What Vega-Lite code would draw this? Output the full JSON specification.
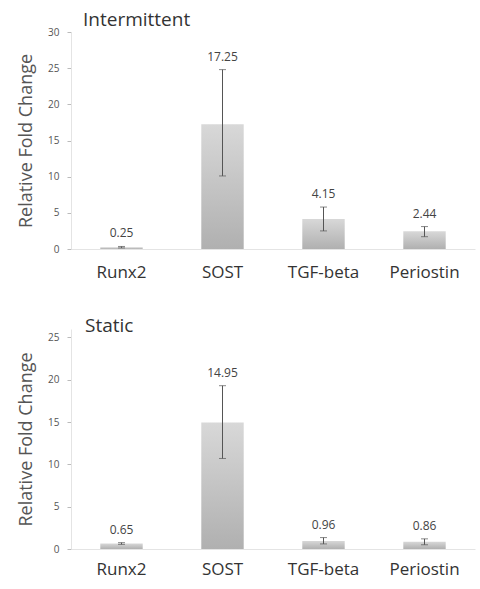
{
  "$schema": "https://vega.github.io/schema/vega-lite/v6.json",
  "padding": {"left": 17, "top": 11, "right": 3, "bottom": 5},
  "background": "white",
  "config": {
    "font": "Open Sans",
    "view": {"stroke": null},
    "concat": {"spacing": 37},
    "axisY": {"titleFontSize": 18, "titleFontWeight": "normal", "titleColor": "#555", "titlePadding": 12, "labelOverlap": false, "labelFontSize": 10, "labelColor": "#555", "grid": false, "tickSize": 4, "tickColor": "#bbb", "domainColor": "#e4e4e4", "labelPadding": 8}
  },
  "datasets": {
    "d": [
      {"panel": "Intermittent", "gene": "Runx2", "value": 0.25, "lower": 0.15, "upper": 0.35},
      {"panel": "Intermittent", "gene": "SOST", "value": 17.25, "lower": 10.1, "upper": 24.8},
      {"panel": "Intermittent", "gene": "TGF-beta", "value": 4.15, "lower": 2.5, "upper": 5.8},
      {"panel": "Intermittent", "gene": "Periostin", "value": 2.44, "lower": 1.7, "upper": 3.1},
      {"panel": "Static", "gene": "Runx2", "value": 0.65, "lower": 0.55, "upper": 0.75},
      {"panel": "Static", "gene": "SOST", "value": 14.95, "lower": 10.7, "upper": 19.3},
      {"panel": "Static", "gene": "TGF-beta", "value": 0.96, "lower": 0.6, "upper": 1.35},
      {"panel": "Static", "gene": "Periostin", "value": 0.86, "lower": 0.5, "upper": 1.2}
    ]
  },
  "vconcat": [
    {
      "width": 404,
      "height": 217,
      "data": {"name": "d"},
      "transform": [{"filter": "datum.panel === 'Intermittent'"}],
      "title": {"text": "Intermittent", "anchor": "start", "frame": "group", "offset": -3, "dx": 12, "fontSize": 19, "fontWeight": "normal", "color": "#333", "font": "Open Sans"},
      "encoding": {
        "x": {
          "field": "gene", "type": "nominal",
          "sort": ["Runx2", "SOST", "TGF-beta", "Periostin"],
          "scale": {"paddingInner": 0.58, "paddingOuter": 0.29},
          "axis": {"title": null, "labelAngle": 0, "labelFontSize": 17, "labelColor": "#333", "ticks": false, "domainColor": "#e4e4e4", "labelPadding": 15}
        }
      },
      "layer": [
        {
          "mark": {"type": "bar", "color": {"gradient": "linear", "x1": 0, "y1": 0, "x2": 0, "y2": 1, "stops": [{"offset": 0, "color": "#d8d8d8"}, {"offset": 1, "color": "#b0b0b0"}]}},
          "encoding": {
            "y": {"field": "value", "type": "quantitative", "scale": {"domain": [0, 30]},
              "axis": {"title": "Relative Fold Change", "values": [0, 5, 10, 15, 20, 25, 30], "labelOverlap": false}}
          }
        },
        {
          "mark": {"type": "rule", "color": "#555", "strokeWidth": 1},
          "encoding": {"y": {"field": "lower", "type": "quantitative", "axis": {"title": "Relative Fold Change", "values": [0, 5, 10, 15, 20, 25, 30], "labelOverlap": false}}, "y2": {"field": "upper"}}
        },
        {
          "mark": {"type": "tick", "color": "#555", "thickness": 1, "size": 7},
          "encoding": {"y": {"field": "upper", "type": "quantitative", "axis": {"title": "Relative Fold Change", "values": [0, 5, 10, 15, 20, 25, 30], "labelOverlap": false}}}
        },
        {
          "mark": {"type": "tick", "color": "#555", "thickness": 1, "size": 7},
          "encoding": {"y": {"field": "lower", "type": "quantitative", "axis": {"title": "Relative Fold Change", "values": [0, 5, 10, 15, 20, 25, 30], "labelOverlap": false}}}
        },
        {
          "mark": {"type": "text", "baseline": "bottom", "dy": -6, "fontSize": 12, "color": "#444"},
          "encoding": {"y": {"field": "upper", "type": "quantitative", "axis": {"title": "Relative Fold Change", "values": [0, 5, 10, 15, 20, 25, 30], "labelOverlap": false}}, "text": {"field": "value", "type": "quantitative", "format": ".2f"}}
        }
      ]
    },
    {
      "width": 404,
      "height": 220,
      "data": {"name": "d"},
      "transform": [{"filter": "datum.panel === 'Static'"}],
      "title": {"text": "Static", "anchor": "start", "frame": "group", "offset": -7, "dx": 14, "fontSize": 19, "fontWeight": "normal", "color": "#333", "font": "Open Sans"},
      "encoding": {
        "x": {
          "field": "gene", "type": "nominal",
          "sort": ["Runx2", "SOST", "TGF-beta", "Periostin"],
          "scale": {"paddingInner": 0.58, "paddingOuter": 0.29},
          "axis": {"title": null, "labelAngle": 0, "labelFontSize": 17, "labelColor": "#333", "ticks": false, "domainColor": "#e4e4e4", "labelPadding": 12}
        }
      },
      "layer": [
        {
          "mark": {"type": "bar", "color": {"gradient": "linear", "x1": 0, "y1": 0, "x2": 0, "y2": 1, "stops": [{"offset": 0, "color": "#d8d8d8"}, {"offset": 1, "color": "#b0b0b0"}]}},
          "encoding": {
            "y": {"field": "value", "type": "quantitative", "scale": {"domain": [0, 25]},
              "axis": {"title": "Relative Fold Change", "values": [0, 5, 10, 15, 20, 25], "labelOverlap": false}}
          }
        },
        {
          "mark": {"type": "rule", "color": "#555", "strokeWidth": 1},
          "encoding": {"y": {"field": "lower", "type": "quantitative", "axis": {"title": "Relative Fold Change", "values": [0, 5, 10, 15, 20, 25], "labelOverlap": false}}, "y2": {"field": "upper"}}
        },
        {
          "mark": {"type": "tick", "color": "#555", "thickness": 1, "size": 7},
          "encoding": {"y": {"field": "upper", "type": "quantitative", "axis": {"title": "Relative Fold Change", "values": [0, 5, 10, 15, 20, 25], "labelOverlap": false}}}
        },
        {
          "mark": {"type": "tick", "color": "#555", "thickness": 1, "size": 7},
          "encoding": {"y": {"field": "lower", "type": "quantitative", "axis": {"title": "Relative Fold Change", "values": [0, 5, 10, 15, 20, 25], "labelOverlap": false}}}
        },
        {
          "mark": {"type": "text", "baseline": "bottom", "dy": -6, "fontSize": 12, "color": "#444"},
          "encoding": {"y": {"field": "upper", "type": "quantitative", "axis": {"title": "Relative Fold Change", "values": [0, 5, 10, 15, 20, 25], "labelOverlap": false}}, "text": {"field": "value", "type": "quantitative", "format": ".2f"}}
        }
      ]
    }
  ]
}
